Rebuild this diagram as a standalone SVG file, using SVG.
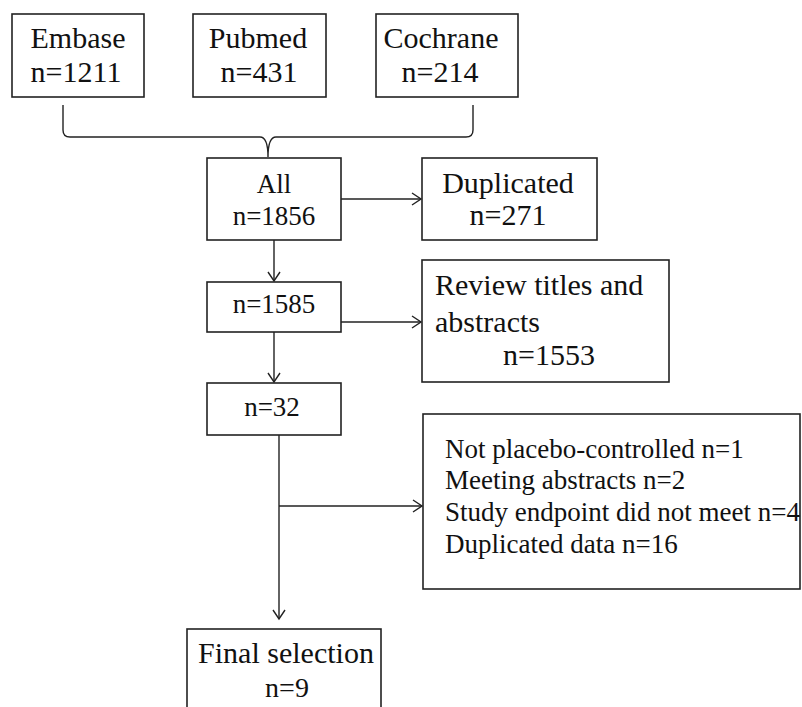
<svg xmlns="http://www.w3.org/2000/svg" width="802" height="707" viewBox="0 0 802 707">
<defs>
<style>
.box{fill:#fff;stroke:#222;stroke-width:1.6}
.t{font-family:"Liberation Serif","Times New Roman",serif;fill:#111}
.c{text-anchor:middle}
.l30{font-size:30px}
.l27{font-size:27px}
.ln{fill:none;stroke:#222;stroke-width:1.4}
</style>
<marker id="ah" markerWidth="12" markerHeight="14" refX="10" refY="7" orient="auto" markerUnits="userSpaceOnUse">
<polyline points="1,1 10,7 1,13" fill="none" stroke="#222" stroke-width="1.4"/>
</marker>
</defs>
<rect width="802" height="707" fill="#fff"/>
<g id="connectors">
<path class="ln" d="M63,105 L63,130 Q63,137 70,137 L260,137 Q268,137 268,157 M473,105 L473,130 Q473,137 466,137 L276,137 Q268,137 268,157"/>
<line class="ln" x1="341" y1="199" x2="421" y2="199" marker-end="url(#ah)"/>
<line class="ln" x1="274" y1="240" x2="274" y2="281" marker-end="url(#ah)"/>
<line class="ln" x1="341" y1="322" x2="421" y2="322" marker-end="url(#ah)"/>
<line class="ln" x1="274" y1="332" x2="274" y2="382" marker-end="url(#ah)"/>
<line class="ln" x1="279" y1="435" x2="279" y2="619" marker-end="url(#ah)"/>
<line class="ln" x1="279" y1="506" x2="422" y2="506" marker-end="url(#ah)"/>
</g>
<g id="embase">
<rect class="box" x="12" y="14" width="132" height="83"/>
<text class="t c l30" x="78" y="48">Embase</text>
<text class="t c l30" x="76" y="82">n=1211</text>
</g>
<g id="pubmed">
<rect class="box" x="193" y="14" width="133" height="83"/>
<text class="t c l30" x="258" y="48">Pubmed</text>
<text class="t c l30" x="259" y="82">n=431</text>
</g>
<g id="cochrane">
<rect class="box" x="376" y="14" width="142" height="83"/>
<text class="t c l30" x="441" y="48">Cochrane</text>
<text class="t c l30" x="440" y="82">n=214</text>
</g>
<g id="all">
<rect class="box" x="207" y="158" width="134" height="82"/>
<text class="t c" style="font-size:27px" x="274" y="193">All</text>
<text class="t c" style="font-size:27px" x="274" y="225">n=1856</text>
</g>
<g id="duplicated">
<rect class="box" x="422" y="158" width="175" height="82"/>
<text class="t c l30" x="508" y="193">Duplicated</text>
<text class="t c l30" x="508" y="225">n=271</text>
</g>
<g id="n1585">
<rect class="box" x="207" y="282" width="134" height="50"/>
<text class="t c" style="font-size:27px" x="274" y="313">n=1585</text>
</g>
<g id="review">
<rect class="box" x="422" y="260" width="247" height="122"/>
<text class="t l30" x="435" y="295">Review titles and</text>
<text class="t l30" x="435" y="332">abstracts</text>
<text class="t l30" x="503" y="365">n=1553</text>
</g>
<g id="n32">
<rect class="box" x="207" y="383" width="134" height="52"/>
<text class="t c" style="font-size:27px" x="272" y="416">n=32</text>
</g>
<g id="exclusions">
<rect class="box" x="423" y="414" width="377" height="175"/>
<text class="t l27" x="445" y="458">Not placebo-controlled n=1</text>
<text class="t l27" x="445" y="489">Meeting abstracts n=2</text>
<text class="t l27" x="445" y="521">Study endpoint did not meet n=4</text>
<text class="t l27" x="445" y="553">Duplicated data n=16</text>
</g>
<g id="final">
<rect class="box" x="187" y="629" width="194" height="95"/>
<text class="t c l30" x="286" y="663">Final selection</text>
<text class="t c" style="font-size:28px" x="287" y="697">n=9</text>
</g>
</svg>
